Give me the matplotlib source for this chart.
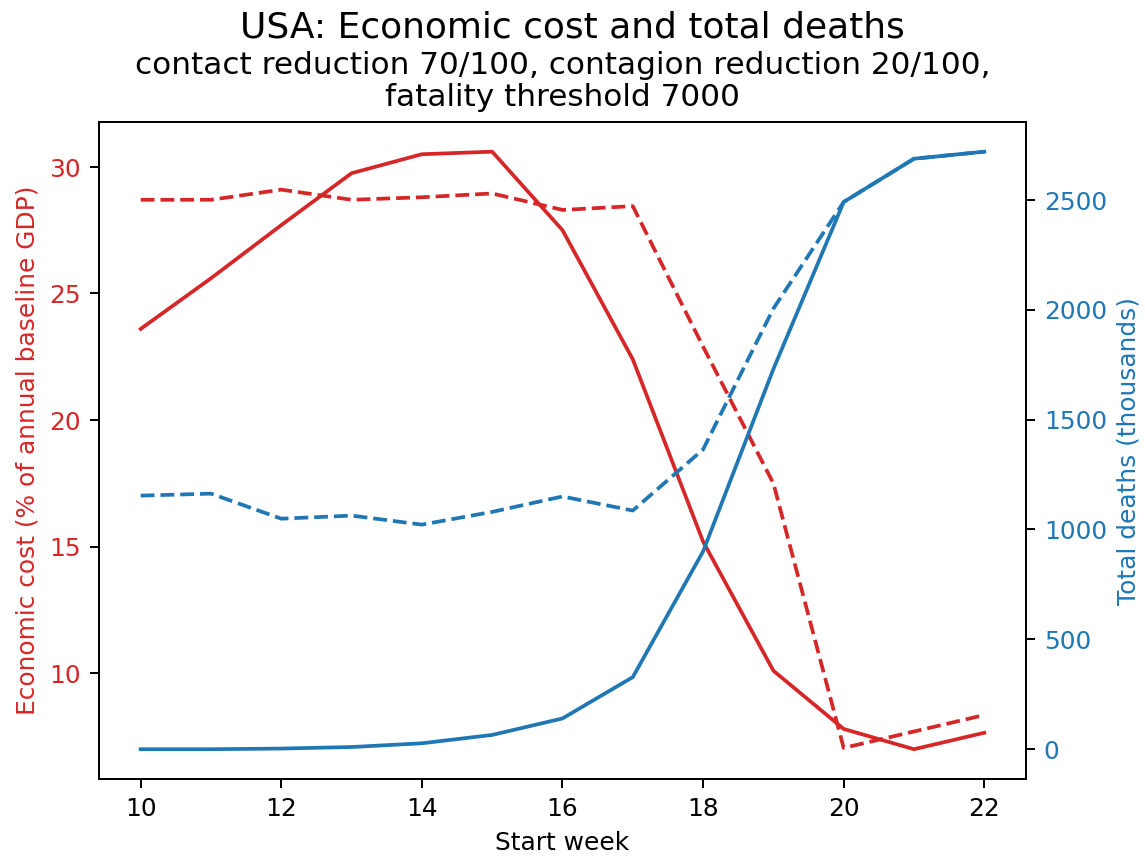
import numpy as np
import matplotlib.pyplot as plt

# start weeks and results
weeks = [10, 11, 12, 13, 14, 15, 16, 17, 18, 19, 20, 21, 22]
cost_solid = [23.6, 25.6, 27.7, 29.75, 30.5, 30.6, 27.5, 22.4, 15.2, 10.1, 7.8, 7.0, 7.65]
cost_dashed = [28.7, 28.7, 29.1, 28.7, 28.8, 28.95, 28.3, 28.45, 22.9, 17.5, 7.05, 7.7, 8.35]
deaths_solid = [0, 0, 3, 10, 27, 65, 140, 328, 900, 1730, 2490, 2687, 2719]
deaths_dashed = [1154, 1163, 1049, 1063, 1022, 1080, 1150, 1086, 1364, 2005, 2490, 2687, 2719]

red = "tab:red"
blue = "tab:blue"

fig = plt.figure(figsize=(6.4, 4.8), dpi=179)
ax = fig.add_axes([0.086, 0.093, 0.81, 0.765])

ax.plot(weeks, cost_solid, color=red)
ax.plot(weeks, cost_dashed, color=red, linestyle="--")
ax.set_xlabel("Start week")
ax.set_ylabel("Economic cost (% of annual baseline GDP)", color=red)
ax.tick_params(axis="y", labelcolor=red)
ax.set_xticks([10, 12, 14, 16, 18, 20, 22])

ax2 = ax.twinx()
ax2.plot(weeks, deaths_solid, color=blue)
ax2.plot(weeks, deaths_dashed, color=blue, linestyle="--")
ax2.set_ylabel("Total deaths (thousands)", color=blue)
ax2.tick_params(axis="y", labelcolor=blue)

fig.text(0.5, 0.968, "USA: Economic cost and total deaths", ha="center", va="center", fontsize=14.5)
ax.set_title("contact reduction 70/100, contagion reduction 20/100,\nfatality threshold 7000",
             fontsize=12.5, pad=6.5, linespacing=1.12)

plt.savefig("out.png", dpi=179)
